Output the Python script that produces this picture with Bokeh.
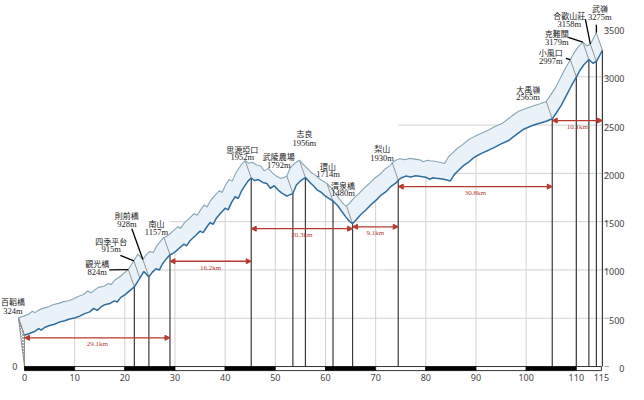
import numpy as np
from bokeh.plotting import figure
from bokeh.models import Range1d, Arrow, NormalHead, ColumnDataSource
from bokeh.core.properties import value
from bokeh.embed import file_html
from bokeh.resources import INLINE

# ---------------- data ----------------
profile_km = [0, 1, 2, 2.8, 3.3, 4, 5, 6, 7, 8, 9, 10, 11, 12, 13, 13.8, 14.5, 15.2, 16, 17,
              17.9, 18.5, 19.2, 20, 21, 21.9, 23.0, 23.8, 24.3, 24.8, 25.5, 26.2, 26.9, 27.5,
              28.2, 29.0, 29.6, 30.2, 31, 31.8, 32.3, 33, 34, 35, 35.6, 36.3, 37, 37.6, 38.2,
              39, 40, 40.6, 41.3, 42, 42.6, 43.3, 44, 44.6, 45.2, 45.9, 46.6, 47.5, 48.3, 49,
              49.8, 50.5, 51.3, 52.3, 53, 53.5, 54.2, 55, 55.5, 56, 57, 57.6, 58.4, 59.2, 59.8,
              60.5, 61.5, 62.5, 63.3, 64, 64.8, 65.4, 66, 67, 68, 69, 70, 71, 72, 73, 74, 74.5,
              75.2, 76, 77, 78, 79, 80, 80.7, 81.5, 82, 83, 84, 84.9, 85.7, 86.5, 87.5, 88.6,
              89.5, 90.3, 91.2, 92.5, 93.7, 95, 96.5, 97.5, 98.5, 99.6, 101, 102, 103, 104,
              105.2, 106, 107, 108, 109, 110, 110.7, 111.5, 112.5, 113.3, 114.0, 115.2]
profile_elev = [324, 342, 362, 392, 378, 404, 425, 438, 462, 474, 492, 502, 522, 548, 566, 602,
                582, 614, 640, 652, 680, 668, 716, 742, 786, 824, 915, 985, 955, 928, 978, 1012,
                1000, 1062, 1110, 1157, 1170, 1195, 1232, 1268, 1250, 1302, 1352, 1402, 1386,
                1442, 1492, 1472, 1532, 1582, 1640, 1622, 1702, 1758, 1740, 1822, 1878, 1922,
                1952, 1925, 1936, 1906, 1896, 1846, 1872, 1830, 1796, 1766, 1780, 1792, 1880,
                1922, 1940, 1956, 1900, 1872, 1826, 1802, 1772, 1746, 1714, 1662, 1602, 1552,
                1502, 1480, 1512, 1572, 1618, 1672, 1718, 1772, 1808, 1862, 1898, 1930, 1955,
                1972, 1962, 1975, 1968, 1960, 1940, 1955, 1950, 1945, 1935, 1922, 1990, 2030,
                2080, 2120, 2160, 2185, 2210, 2240, 2270, 2305, 2340, 2380, 2420, 2460, 2490,
                2508, 2525, 2540, 2565, 2625, 2705, 2805, 2905, 2997, 3065, 3125, 3179, 3140,
                3158, 3275]

landmark_names = ["百韜橋", "觀光橋", "四季平台", "則前橋", "南山", "思源埡口", "武陵農場", "志良",
                  "環山", "清泉橋", "梨山", "大禹嶺", "小風口", "克難關", "合歡山莊", "武嶺"]
landmark_km = [0, 21.9, 23.0, 24.8, 29.0, 45.2, 53.5, 56.0, 61.5, 65.4, 74.5, 105.2, 110.0,
               112.5, 114.0, 115.2]
landmark_elev = [324, 824, 915, 928, 1157, 1952, 1792, 1956, 1714, 1480, 1930, 2565, 2997,
                 3179, 3158, 3275]
landmark_has_line = [False, True, False, True, True, True, True, True, True, True, True, True,
                     True, True, True, True]

segment_start_km = [0, 29.0, 45.2, 65.4, 74.5, 105.2]
segment_end_km = [29.0, 45.2, 65.4, 74.5, 105.2, 115.2]
segment_labels = ["29.1km", "16.2km", "20.3km", "9.1km", "30.8km", "10.1km"]

x_ticks = [0, 10, 20, 30, 40, 50, 60, 70, 80, 90, 100, 110, 115]
y_ticks = [0, 500, 1000, 1500, 2000, 2500, 3000, 3500]

# ---------------- layout / style ----------------
RIB_DX, RIB_DY = -1.2, 180          # 3D ribbon offset (km, m)
X0, X1 = -4.78, 120.4               # visible km range
Y0, Y1 = -186, 3790                 # visible elevation range
XLAB_Y = -112                       # x tick label row
# label placement: (x, name y, elevation y)
label_layout = [(-2.3, 674, 575), (14.5, 1070, 981), (17.3, 1298, 1219),
                (20.4, 1566, 1477), (26.3, 1477, 1388), (43.4, 2250, 2170),
                (50.7, 2170, 2091), (55.8, 2418, 2319), (60.5, 2071, 1992),
                (63.5, 1873, 1794), (71.3, 2260, 2161), (100.4, 2864, 2795),
                (104.9, 3251, 3162), (106.1, 3449, 3360), (108.6, 3637, 3548),
                (114.7, 3706, 3617)]
# leader start points (index of landmark, x, y)
leader_layout = [(1, 16.9, 1001), (2, 19.1, 1150), (3, 21.4, 1427), (12, 107.9, 3191),
                 (13, 108.4, 3409), (14, 111.8, 3598), (15, 114.0, 3540)]
arrow_y = [297, 1090, 1427, 1447, 1863, 2547]

LOWER = "#2f6d9c"
UPPER = "#86a6b6"
FILL = "#e9f2f8"
GRID = "#d2d2d2"
RED = "#b83a2e"

pk = np.array(profile_km, dtype=float)
pe = np.array(profile_elev, dtype=float)

p = figure(width=628, height=384, output_backend="svg", toolbar_location=None,
           x_range=Range1d(X0, X1), y_range=Range1d(Y0, Y1),
           x_axis_location=None, y_axis_location=None,
           min_border_left=0, min_border_right=0, min_border_top=0, min_border_bottom=0)
p.outline_line_color = None
p.xgrid.visible = False
p.ygrid.visible = False
p.background_fill_color = "white"

# horizontal grid lines (start at last marked station before profile reaches the level)
lm_line_km = [k for k, h in zip(landmark_km, landmark_has_line) if h] + [0]
for lvl in y_ticks[1:]:
    above = np.where(pe >= lvl)[0]
    if len(above) == 0:
        continue
    first_km = pk[above[0]]
    start = max([k for k in lm_line_km if k <= first_km])
    p.line([start, 115.5], [lvl, lvl], line_color=GRID, line_width=1)

# vertical grid lines up to profile
for t in x_ticks[1:-1]:
    top = float(np.interp(t, pk, pe))
    p.line([t, t], [0, top], line_color=GRID, line_width=1)

# ribbon
up_k = pk + RIB_DX
up_e = pe + RIB_DY
p.patch(list(pk) + list(up_k[::-1]), list(pe) + list(up_e[::-1]),
        fill_color=FILL, line_color=None)

# end face (hatched)
p.patch([landmark_km[0] + RIB_DX, landmark_km[0], landmark_km[0]],
        [landmark_elev[0] + RIB_DY, landmark_elev[0], 0],
        fill_color="white", line_color="#777", line_width=0.8,
        hatch_pattern="x", hatch_color="#666", hatch_scale=3, hatch_weight=0.6)

# station vertical lines
for k, e, h in zip(landmark_km, landmark_elev, landmark_has_line):
    if h:
        p.line([k, k], [0, e], line_color="#3a3a3a", line_width=1.2)

# diagonal fold edges
for k, e in zip(landmark_km, landmark_elev):
    p.line([k, k + RIB_DX], [e, e + RIB_DY], line_color="#8a8a8a", line_width=0.9)

p.line(up_k, up_e, line_color=UPPER, line_width=1.1)
p.line(pk, pe, line_color=LOWER, line_width=1.5)

# bottom scale bar
bar_l, bar_r, bar_c = [], [], []
for i in range(len(x_ticks) - 1):
    bar_l.append(x_ticks[i]); bar_r.append(x_ticks[i + 1])
    bar_c.append("black" if (x_ticks[i] // 10) % 2 == 0 else "white")
p.quad(left=bar_l, right=bar_r, bottom=-42, top=0, fill_color=bar_c, line_color="black", line_width=0.8)

# x tick labels
p.text(x=x_ticks, y=[XLAB_Y] * len(x_ticks), text=[str(t) for t in x_ticks],
       text_align="center", text_baseline="middle",
       text_font=value("Noto Sans"), text_font_size="9px", text_color="#444")

# right-side elevation ticks and labels
p.segment(x0=[115.6] * len(y_ticks), y0=y_ticks, x1=[116.5] * len(y_ticks), y1=y_ticks,
          line_color="#aaa", line_width=1)
p.text(x=[119.6] * len(y_ticks), y=[v - 20 for v in y_ticks], text=[str(v) for v in y_ticks],
       text_align="right", text_baseline="middle",
       text_font=value("Noto Sans"), text_font_size="9px", text_color="#444")

# left zero
p.text(x=[-1.9], y=[0], text=["0"], text_align="center", text_baseline="middle",
       text_font=value("Noto Sans"), text_font_size="9px", text_color="#444")

# leaders
for idx, lx, ly in leader_layout:
    p.line([lx, landmark_km[idx] + RIB_DX], [ly, landmark_elev[idx] + RIB_DY],
           line_color="black", line_width=1.3)

# station labels
name_src = ColumnDataSource(dict(x=[l[0] for l in label_layout], y=[l[1] for l in label_layout],
                                 t=landmark_names))
elev_src = ColumnDataSource(dict(x=[l[0] for l in label_layout], y=[l[2] for l in label_layout],
                                 t=[f"{e}m" for e in landmark_elev]))
p.text(x="x", y="y", text="t", source=name_src, text_align="center", text_baseline="middle",
       text_font=value("Noto Sans CJK TC"), text_font_size="8px", text_color="#222")
p.text(x="x", y="y", text="t", source=elev_src, text_align="center", text_baseline="middle",
       text_font=value("Liberation Serif"), text_font_size="8.5px", text_color="#222")

# distance arrows
for s, e, lab, ay in zip(segment_start_km, segment_end_km, segment_labels, arrow_y):
    p.add_layout(Arrow(start=NormalHead(size=5, fill_color=RED, line_color=RED),
                       end=NormalHead(size=5, fill_color=RED, line_color=RED),
                       x_start=s, y_start=ay, x_end=e, y_end=ay,
                       line_color=RED, line_width=1.3))
    p.text(x=[(s + e) / 2], y=[ay - 65], text=[lab], text_align="center", text_baseline="middle",
           text_font=value("Liberation Serif"), text_font_size="7px", text_color=RED)

open("out.html", "w").write(file_html(p, INLINE))
